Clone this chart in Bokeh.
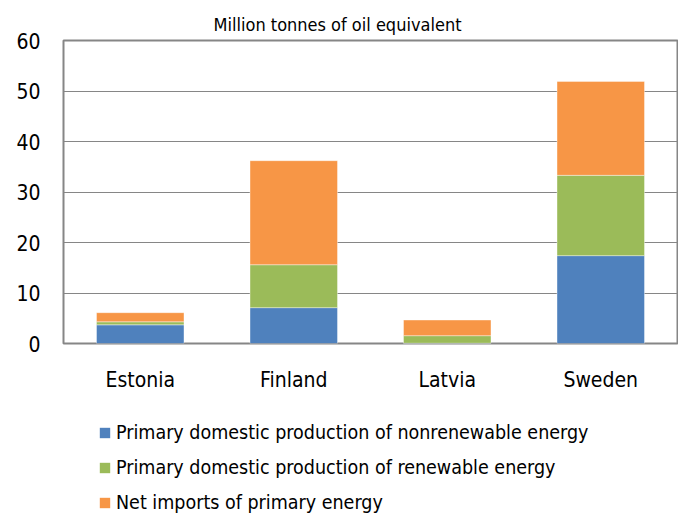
from bokeh.plotting import figure
from bokeh.models import (ColumnDataSource, Legend, LegendItem, FactorRange,
                          SingleIntervalTicker, Title)
from bokeh.layouts import column
from bokeh.embed import file_html
from bokeh.resources import INLINE

countries = ["Estonia", "Finland", "Latvia", "Sweden"]
nonrenewable = [3.7, 7.1, 0.05, 17.4]
renewable = [0.6, 8.5, 1.5, 15.9]
net_imports = [1.8, 20.6, 3.1, 18.6]
series_names = [
    "Primary domestic production of nonrenewable energy",
    "Primary domestic production of renewable energy",
    "Net imports of primary energy",
]
colors = ["#4F81BD", "#9BBB59", "#F79646"]
keys = ["nonrenewable", "renewable", "net_imports"]

FONT = "DejaVu Sans Condensed"

source = ColumnDataSource(dict(country=countries, nonrenewable=nonrenewable,
                               renewable=renewable, net_imports=net_imports))

p = figure(width=678, height=396, x_range=FactorRange(*countries), y_range=(0, 60),
           output_backend="svg", toolbar_location=None,
           min_border_left=63, min_border_right=1, min_border_top=40, min_border_bottom=53)

renderers = p.vbar_stack(keys, x="country", width=0.57, color=colors, source=source,
                         line_color="white", line_alpha=0.4, line_width=1)

p.title.text = "Million tonnes of oil equivalent"
p.title.align = "left"
p.title.offset = 150
p.title.text_font = FONT
p.title.text_font_size = "18px"
p.title.text_font_style = "normal"
p.title.text_color = "#000000"
p.title.vertical_align = "top"
p.title.standoff = 8

# small empty spacer between the title and the plot frame
p.add_layout(Title(text="", text_font_size="1px", standoff=6), "above")

p.outline_line_color = "#868686"
p.outline_line_width = 2

p.xgrid.grid_line_color = None
p.ygrid.grid_line_color = "#868686"
p.ygrid.grid_line_width = 1

p.yaxis.ticker = SingleIntervalTicker(interval=10)
for ax in (p.xaxis, p.yaxis):
    ax.axis_line_color = None
    ax.major_tick_line_color = None
    ax.minor_tick_line_color = None
    ax.major_label_text_font = FONT
    ax.major_label_text_font_size = "21px"
    ax.major_label_text_color = "#000000"
p.yaxis.major_label_standoff = 17
p.xaxis.major_label_standoff = 18
p.x_range.range_padding = 0
p.x_range.group_padding = 0

# Legend panel underneath the chart (its frame is aligned with the chart's frame)
p2 = figure(width=678, height=118, x_range=(0, 1), y_range=(0, 1),
            output_backend="svg", toolbar_location=None,
            x_axis_location=None, y_axis_location=None,
            min_border_left=0, min_border_right=0, min_border_top=0, min_border_bottom=0)
p2.outline_line_color = None
p2.grid.grid_line_color = None
# zero-height placeholder glyphs, only used to draw the legend swatches
swatches = [p2.vbar(x=[0.5], top=[0], bottom=[0], width=0.1, fill_color=c, line_alpha=0)
            for c in colors]

items = [LegendItem(label=n, renderers=[r]) for n, r in zip(series_names, swatches)]
legend = Legend(items=items, location=(35, 0), orientation="vertical",
                label_text_font=FONT, label_text_font_size="19.5px", label_text_color="#000000",
                glyph_width=13, glyph_height=13, label_standoff=5, label_height=22,
                spacing=12, padding=0, margin=0, border_line_color=None,
                background_fill_alpha=0)
p2.add_layout(legend, "center")

layout = column(p, p2, spacing=0)
open("out.html", "w").write(file_html(layout, INLINE))
